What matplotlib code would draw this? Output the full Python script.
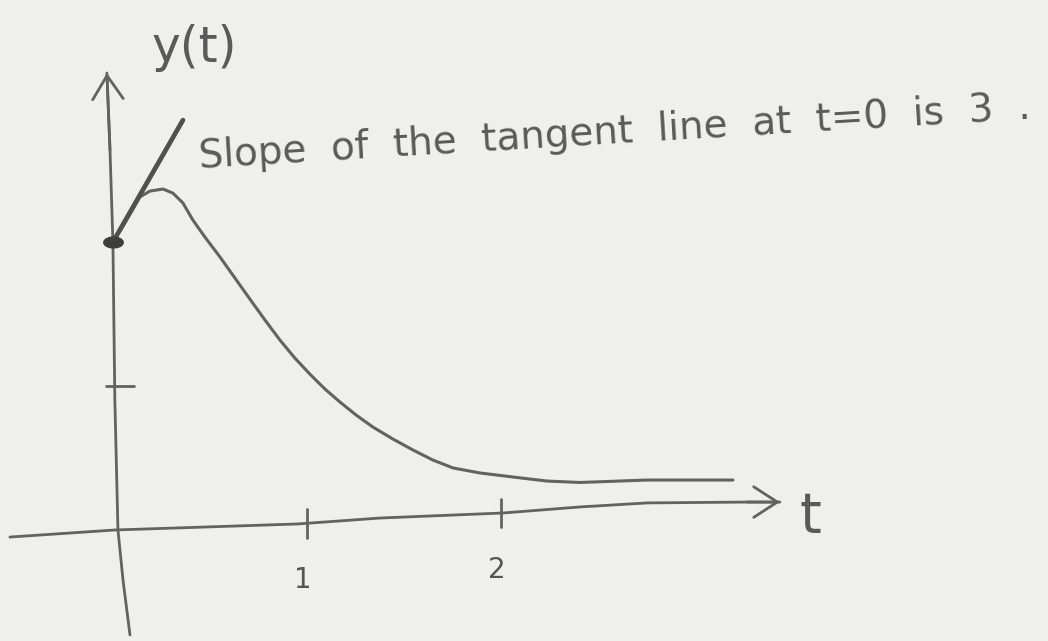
import numpy as np
import matplotlib
matplotlib.use("Agg")
import matplotlib.pyplot as plt
from matplotlib.path import Path

# ---- data (t, y units) ----
curve_t = [0.000, 0.052, 0.103, 0.139, 0.191, 0.258, 0.309, 0.361, 0.412, 0.474,
           0.552, 0.629, 0.706, 0.784, 0.861, 0.938, 1.015, 1.093, 1.170, 1.253,
           1.340, 1.443, 1.546, 1.649, 1.753, 1.892, 2.062, 2.237, 2.407, 2.753, 3.196]
curve_y = [2.000, 2.111, 2.229, 2.313, 2.354, 2.368, 2.340, 2.271, 2.153, 2.035,
           1.896, 1.750, 1.604, 1.458, 1.319, 1.194, 1.083, 0.979, 0.889, 0.799,
           0.715, 0.632, 0.556, 0.486, 0.431, 0.396, 0.368, 0.340, 0.330, 0.347, 0.347]

tangent_t = [0.0, 0.361]
tangent_y = [2.0, 2.847]

point_t = [0.0]
point_y = [2.0]

# hand-drawn axes (slightly tilted)
xaxis_t = [-0.531, 0.010, 0.954, 1.376, 2.010, 2.407, 2.753, 3.268, 3.438]
xaxis_y = [-0.049, 0.000, 0.042, 0.083, 0.118, 0.160, 0.188, 0.194, 0.194]
yaxis_t = [0.088, 0.052, 0.026, 0.010, 0.000, -0.015, -0.031]
yaxis_y = [-0.729, -0.347, 0.000, 0.903, 2.000, 2.639, 3.174]

xtick_values = [1, 2]
xtick_labels = ["1", "2"]
ytick_values = [1]

annotation = "Slope  of  the  tangent  line  at  t=0  is  3  ."
ylabel_text = "y(t)"
xlabel_text = "t"

# ---- figure ----
paper = "#efefed"
pencil = "#626262"
fig = plt.figure(figsize=(10.48, 6.41), dpi=100, facecolor=paper)
ax = fig.add_axes([0, 0, 1, 1])
ax.set_facecolor(paper)
ax.set_xlim(-0.582, 4.820)
ax.set_ylim(-0.771, 3.681)
ax.axis("off")

# axes lines
ax.plot(xaxis_t, xaxis_y, color=pencil, lw=2.0, solid_capstyle="round", solid_joinstyle="round")
ax.plot(yaxis_t, yaxis_y, color=pencil, lw=2.0, solid_capstyle="round", solid_joinstyle="round")
arrow_kw = dict(arrowstyle="->,head_length=1.7,head_width=1.1", color=pencil, lw=2.0,
                shrinkA=0, shrinkB=0)
ax.annotate("", xy=(xaxis_t[-1], xaxis_y[-1]), xytext=(xaxis_t[-2], xaxis_y[-2]),
            arrowprops=arrow_kw)
ax.annotate("", xy=(yaxis_t[-1], yaxis_y[-1]), xytext=(yaxis_t[-2], yaxis_y[-2]),
            arrowprops=arrow_kw)

# ticks
for tv, lab in zip(xtick_values, xtick_labels):
    ya = np.interp(tv, xaxis_t, xaxis_y)
    ax.plot([tv, tv], [ya - 0.10, ya + 0.10], color=pencil, lw=2.0, solid_capstyle="round")
    ax.text(tv - 0.02, ya - 0.30, lab, ha="center", va="top", fontsize=20,
            color="#555555", family="DejaVu Sans")
for yv in ytick_values:
    ax.plot([-0.035, 0.11], [yv, yv], color=pencil, lw=2.0, solid_capstyle="round")

# curve, tangent, point
ax.plot(curve_t, curve_y, color=pencil, lw=2.2, solid_capstyle="round", solid_joinstyle="round")
ax.plot(tangent_t, tangent_y, color="#505050", lw=3.4, solid_capstyle="round")
theta = np.linspace(0, 2 * np.pi, 40)
ellipse = Path(np.column_stack([1.8 * np.cos(theta), np.sin(theta)]))
ax.plot(point_t, point_y, linestyle="none", marker=ellipse, markersize=14,
        color="#3e3e3e")

# texts
ax.text(0.448, 2.514, annotation, rotation=3.4, rotation_mode="anchor",
        ha="left", va="baseline", fontsize=28, color="#5a5a5a", family="DejaVu Sans")
ax.text(0.20, 3.25, ylabel_text, ha="left", va="baseline", fontsize=35,
        color="#5a5a5a", family="DejaVu Sans")
ax.text(3.54, -0.014, xlabel_text, ha="left", va="baseline", fontsize=40,
        color="#5a5a5a", family="DejaVu Sans")

fig.savefig("out.png", dpi=100, facecolor=paper)
